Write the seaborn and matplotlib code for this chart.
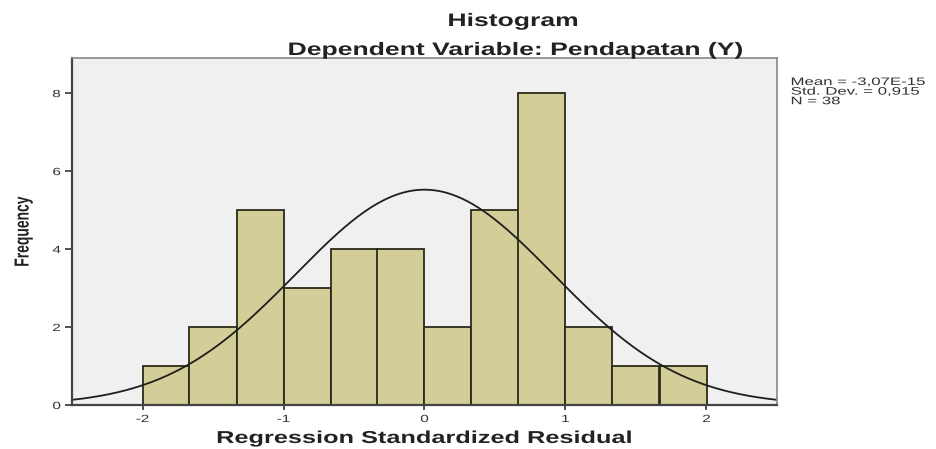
import numpy as np
import pandas as pd
import matplotlib
matplotlib.use("Agg")
import matplotlib.pyplot as plt
import seaborn as sns
from matplotlib.patheffects import AbstractPathEffect
from matplotlib.transforms import Affine2D

# Data
bin_edges = [-2, -5/3, -4/3, -1, -2/3, -1/3, 0, 1/3, 2/3, 1, 4/3, 5/3, 2]
counts = [1, 2, 5, 3, 4, 4, 2, 5, 8, 2, 1, 1]
mean_val = -3.07e-15
std_val = 0.915
n_obs = 38
x_ticks = [-2, -1, 0, 1, 2]
y_ticks = [0, 2, 4, 6, 8]


class HStretch(AbstractPathEffect):
    """Widen rendered text horizontally (the reference image is stretched)."""
    def __init__(self, sx=1.47, anchor="center"):
        super().__init__()
        self.sx = sx
        self.anchor = anchor

    def draw_path(self, renderer, gc, tpath, affine, rgbFace=None):
        ext = tpath.get_extents(affine)
        cx = ext.x0 if self.anchor == "left" else (ext.x0 + ext.x1) / 2
        aff = affine + Affine2D().translate(-cx, 0).scale(self.sx, 1).translate(cx, 0)
        renderer.draw_path(gc, tpath, aff, rgbFace)


S = 1.47

sns.set_style("white")
plt.rcParams['font.family'] = ['Liberation Sans', 'DejaVu Sans']

fig = plt.figure(figsize=(9.37, 4.49), dpi=100)
ax = fig.add_axes([72/937, 44/449, 705/937, 347/449])
ax.set_facecolor("#F0F0F0")

centers = [(bin_edges[i] + bin_edges[i+1]) / 2 for i in range(len(counts))]
df = pd.DataFrame({"x": centers, "w": counts})
sns.histplot(data=df, x="x", weights="w", bins=bin_edges, ax=ax,
             color="#D3CE97", alpha=1, edgecolor="#2a2a1a", linewidth=1.3)

bw = bin_edges[1] - bin_edges[0]
xs = np.linspace(-2.5, 2.5, 400)
ys = n_obs * bw * np.exp(-0.5 * ((xs - mean_val) / std_val) ** 2) / (std_val * np.sqrt(2 * np.pi))
sns.lineplot(x=xs, y=ys, ax=ax, color="#1e1e1e", linewidth=1.3)

ax.set_xlim(-2.5, 2.5)
ax.set_ylim(0, 8.9)
ax.set_xticks(x_ticks)
ax.set_yticks(y_ticks)
ax.set_xticklabels([str(t) for t in x_ticks], fontsize=7.5, color="#333333")
ax.set_yticklabels([str(t) for t in y_ticks], fontsize=7.5, color="#333333")
ax.tick_params(axis="y", direction="out", length=5, width=1.2, color="#333333", pad=4, left=True)
ax.tick_params(axis="x", direction="out", length=3.5, width=1.2, color="#333333", pad=3, bottom=True)
for lbl in ax.get_xticklabels() + ax.get_yticklabels():
    lbl.set_path_effects([HStretch(S)])
for s in ["left", "bottom"]:
    ax.spines[s].set_color("#444444")
    ax.spines[s].set_linewidth(1.6)
for s in ["top", "right"]:
    ax.spines[s].set_color("#888888")
    ax.spines[s].set_linewidth(1.2)

xl = ax.set_xlabel("Regression Standardized Residual", fontsize=12.4, fontweight="bold",
                   color="#222222", labelpad=5)
xl.set_path_effects([HStretch(S)])
yl = ax.set_ylabel("Frequency", fontsize=10, fontweight="bold", color="#222222", labelpad=17)
yl.set_path_effects([HStretch(S)])

t1 = fig.text(513/937, 1 - 26/449, "Histogram", ha="center", va="baseline",
              fontsize=13, fontweight="bold", color="#222222")
t2 = fig.text(515/937, 1 - 55/449, "Dependent Variable: Pendapatan (Y)", ha="center",
              va="baseline", fontsize=13, fontweight="bold", color="#222222")
t1.set_path_effects([HStretch(S)])
t2.set_path_effects([HStretch(S)])

stats = "Mean = -3,07E-15\nStd. Dev. = 0,915\nN = 38"
st = fig.text(791/937, 1 - 77/449, stats, ha="left", va="top", fontsize=7.8,
              color="#333333", linespacing=0.95)
st.set_path_effects([HStretch(1.55, anchor="left")])

fig.savefig("out.png", dpi=100)
